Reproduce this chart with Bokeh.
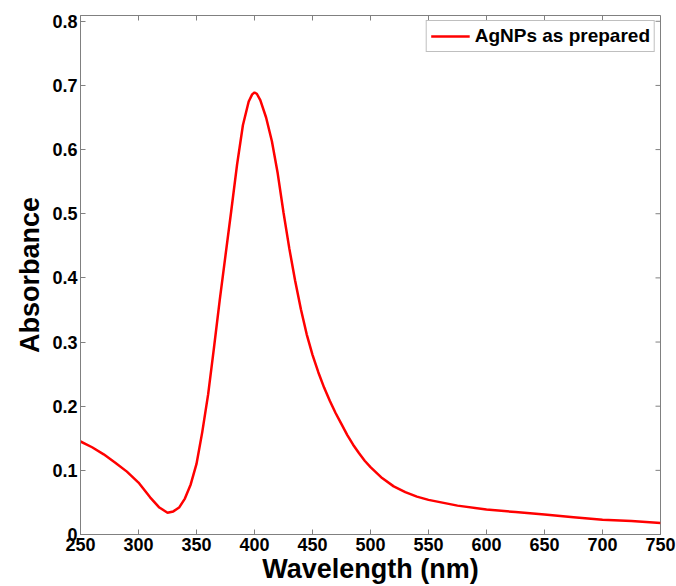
import math
from bokeh.plotting import figure
from bokeh.models import Range1d, Legend, LegendItem, FixedTicker
from bokeh.embed import file_html
from bokeh.resources import INLINE

# Data (wavelength in nm, absorbance)
wavelength = [250, 260, 270, 280, 290, 300, 310, 318, 325, 330, 335, 340, 345,
              350, 355, 360, 365, 370, 375, 380, 385, 390, 395, 398, 400, 402,
              405, 410, 415, 420, 425, 430, 435, 440, 445, 450, 455, 460, 465,
              470, 475, 480, 485, 490, 495, 500, 510, 520, 530, 540, 550, 575,
              600, 625, 650, 675, 700, 725, 750]
absorbance = [0.145, 0.136, 0.125, 0.112, 0.098, 0.081, 0.058, 0.042, 0.034, 0.036,
              0.042, 0.056, 0.078, 0.110, 0.160, 0.218, 0.290, 0.365, 0.435, 0.505,
              0.577, 0.638, 0.675, 0.686, 0.689, 0.687, 0.677, 0.650, 0.613, 0.563,
              0.502, 0.446, 0.396, 0.351, 0.312, 0.280, 0.253, 0.229, 0.208, 0.189,
              0.172, 0.155, 0.140, 0.127, 0.115, 0.105, 0.088, 0.075, 0.066, 0.059,
              0.054, 0.045, 0.039, 0.035, 0.031, 0.027, 0.023, 0.021, 0.018]

x_ticks = [250, 300, 350, 400, 450, 500, 550, 600, 650, 700, 750]
y_ticks = [0, 0.1, 0.2, 0.3, 0.4, 0.5, 0.6, 0.7, 0.8]
y_tick_labels = ["0", "0.1", "0.2", "0.3", "0.4", "0.5", "0.6", "0.7", "0.8"]
series_name = "AgNPs as prepared"

FONT = "Liberation Sans"
AXIS_GREY = "#808080"

p = figure(width=676, height=586, output_backend="svg", toolbar_location=None,
           x_range=Range1d(250, 750), y_range=Range1d(0, 0.809),
           min_border_left=80, min_border_right=16, min_border_top=15,
           min_border_bottom=40)
p.background_fill_color = "white"
p.border_fill_color = "white"
p.outline_line_color = AXIS_GREY
p.outline_line_width = 1
p.grid.visible = False

r = p.line(wavelength, absorbance, line_color="#ff0000", line_width=2.5)

xa = p.xaxis[0]
ya = p.yaxis[0]
xa.ticker = FixedTicker(ticks=x_ticks)
ya.ticker = FixedTicker(ticks=y_ticks)
ya.major_label_overrides = {t: l for t, l in zip(y_ticks, y_tick_labels)}
for ax in (xa, ya):
    ax.axis_line_color = AXIS_GREY
    ax.major_tick_line_color = AXIS_GREY
    ax.major_tick_in = 5
    ax.major_tick_out = 0
    ax.minor_tick_line_color = None
    ax.major_label_text_font = FONT
    ax.major_label_text_font_style = "bold"
    ax.major_label_text_color = "black"
    ax.major_label_text_font_size = "18px"
    ax.major_label_standoff = 3
    ax.axis_label_text_font = FONT
    ax.axis_label_text_font_style = "bold"
    ax.axis_label_text_font_size = "27px"
    ax.axis_label_text_color = "black"
xa.axis_label = "Wavelength (nm)"
ya.axis_label = "Absorbance"
xa.axis_label_standoff = 0
ya.axis_label_standoff = 4

# Inward tick marks on the top and right sides of the box (clipped to the frame)
p.scatter(x=x_ticks, y=[p.y_range.end] * len(x_ticks), marker="dash",
          angle=math.pi / 2, size=10, line_color=AXIS_GREY, line_width=1)
p.scatter(x=[p.x_range.end] * len(y_ticks), y=y_ticks, marker="dash",
          size=10, line_color=AXIS_GREY, line_width=1)

legend = Legend(items=[LegendItem(label=series_name, renderers=[r])],
                location="top_right")
legend.label_text_font = FONT
legend.label_text_font_style = "bold"
legend.label_text_font_size = "19px"
legend.label_text_color = "black"
legend.border_line_color = AXIS_GREY
legend.border_line_width = 1
legend.glyph_width = 39
legend.glyph_height = 18
legend.label_standoff = 5
legend.padding = 4
legend.margin = 5
legend.spacing = 0
p.add_layout(legend, "center")

open("out.html", "w").write(file_html(p, INLINE))
